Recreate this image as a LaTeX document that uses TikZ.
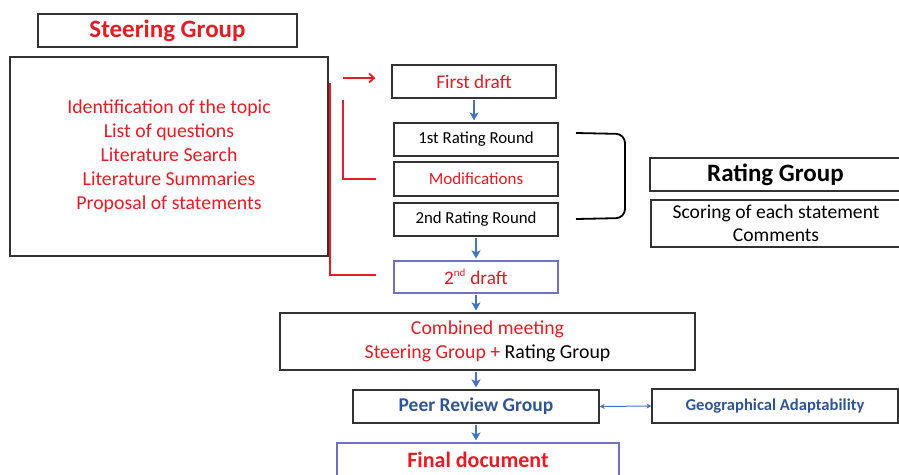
\documentclass[tikz,border=0pt]{standalone}
\usepackage{fontspec}
\setmainfont{Carlito}
\usetikzlibrary{arrows.meta}
\definecolor{dred}{RGB}{230,28,36}
\definecolor{ablue}{RGB}{68,114,196}
\definecolor{tblue}{RGB}{47,85,151}
\definecolor{bblue}{RGB}{112,112,200}
\definecolor{bgray}{RGB}{50,50,50}
\begin{document}
\begin{tikzpicture}[x=1pt,y=-1pt,
  box/.style={draw=bgray,line width=1.2pt,inner sep=0pt,minimum width=#1},
  bbox/.style={draw=bblue,line width=1.2pt,inner sep=0pt,minimum width=#1},
  barrow/.style={draw=ablue,line width=1.7pt,-{Stealth[length=8pt,width=9pt,inset=2pt]},shorten >=2pt,shorten <=1pt},
  rline/.style={draw=dred,line width=1.8pt},
  fs/.style={font=\fontsize{#1}{#1}\selectfont}
]
\useasboundingbox (0,0) rectangle (899,474);
% Steering group
\node[box=259pt,minimum height=33pt,text=dred,fs=25] (steer) at (167.5,30.5) {\bfseries Steering Group};
\node[box=318pt,minimum height=199pt,text=dred,align=center,font=\fontsize{19.8}{24}\selectfont] (sg) at (169,156.5)
  {Identification of the topic\\List of questions\\Literature Search\\Literature Summaries\\Proposal of statements};
% central column
\node[box=164pt,minimum height=33pt,text=dred,fs=19.3] (first) at (474,81.5) {First draft};
\node[box=164pt,minimum height=33pt,fs=16.8] (r1) at (476,139.5) {1st Rating Round};
\node[box=164pt,minimum height=34pt,text=dred,fs=17] (mod) at (476,179) {Modifications};
\node[box=164pt,minimum height=33pt,fs=16.8] (r2) at (476,219.5) {2nd Rating Round};
\node[bbox=164pt,minimum height=32pt,text=dred,fs=19.3] (d2) at (476,277) {2\textsuperscript{\fontsize{11}{11}\selectfont nd} draft};
\node[box=415pt,minimum height=57pt,align=center,font=\fontsize{19.8}{23.5}\selectfont] (comb) at (487.5,341.5)
  {\textcolor{dred}{Combined meeting}\\\textcolor{dred}{Steering Group +} Rating Group};
\node[box=246pt,minimum height=33pt,text=tblue,fs=19.5] (peer) at (476,406.5) {\bfseries Peer Review Group};
\node[bbox=282pt,minimum height=62pt,text=dred,fs=22] (final) at (478,474) {};
\node[text=dred,fs=22,inner sep=0pt] (finalt) at (478,460) {\bfseries Final document};
% right side
\node[box=251pt,minimum height=33pt,fs=25] (rg) at (775.5,174.5) {\bfseries Rating Group};
\node[box=250pt,minimum height=47pt,align=center,font=\fontsize{19.6}{23}\selectfont] (sc) at (776,223.5)
  {Scoring of each statement\\Comments};
\node[box=246pt,minimum height=34pt,text=tblue,fs=16.6] (geo) at (775,406) {\bfseries Geographical Adaptability};
% blue arrows
\draw[barrow] (first) -- (first |- r1.north);
\draw[barrow] (r2) -- (r2 |- d2.north);
\draw[barrow] (d2.south) -- (d2.south |- comb.north);
\draw[barrow] (comb.south -| peer) -- (peer.north);
\draw[barrow] (peer.south) -- (peer.south |- final.north);
\draw[draw=ablue,line width=1pt,{Stealth[length=5pt,width=5pt]}-{Stealth[length=5pt,width=5pt]}] (peer.east) -- (geo.west);
% red lines
\coordinate (ra) at (343,78);
\draw[rline,-{Straight Barb[length=5pt,width=9pt]}] (ra) -- (ra -| first.west) [shorten >=16pt];
\coordinate (rb) at (343,100);
\draw[rline,shorten >=17pt] (rb) |- (mod.west);
\coordinate (rc) at (330,83);
\draw[rline,shorten >=17pt] (rc) |- ([yshift=2pt]d2.west);
% bracket
\coordinate (bt) at (576,133);
\coordinate (bb) at (576,219);
\draw[line width=1.8pt,rounded corners=9pt] (bt) -- (625,134) -- (625,218) -- (bb);
\end{tikzpicture}
\end{document}
